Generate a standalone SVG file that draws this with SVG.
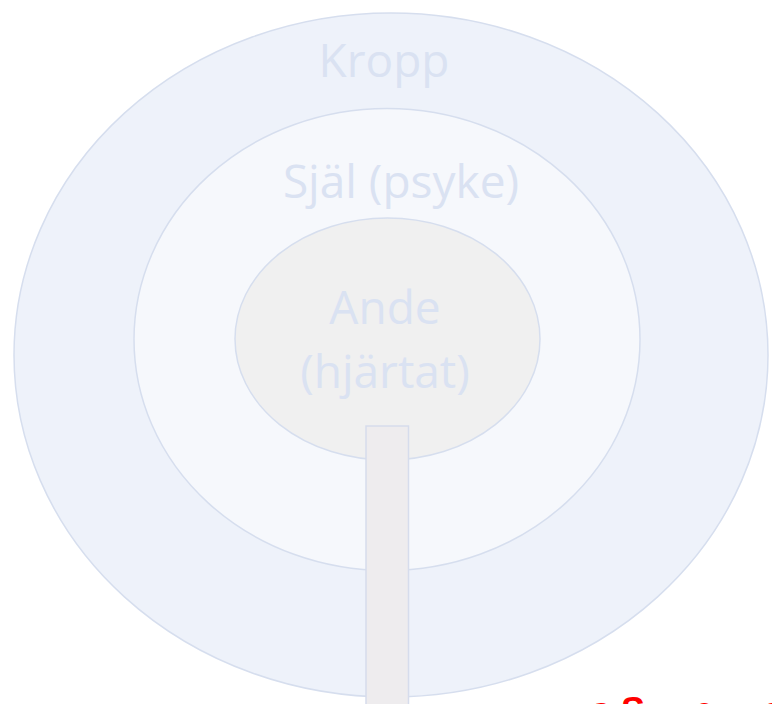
<svg xmlns="http://www.w3.org/2000/svg" width="772" height="704" viewBox="0 0 772 704">
<style>
.ring{stroke:#D6DEEE;stroke-width:1.5}
.lbl{font-family:"Open Sans","Liberation Sans",sans-serif;font-size:46px;fill:#DAE2F2;text-anchor:middle}
.red{font-family:"Liberation Sans",Arial,sans-serif;font-weight:bold;font-size:36px;fill:#FF0000}
</style>
<rect width="772" height="704" fill="#FFFFFF"/>
<g id="kropp">
<ellipse class="ring" cx="391" cy="355" rx="377" ry="342" fill="#EEF2FA"/>
<text class="lbl" x="384" y="77">Kropp</text>
</g>
<g id="sjal">
<ellipse class="ring" cx="387" cy="339.5" rx="253" ry="231" fill="#F6F8FC"/>
<text class="lbl" x="401" y="198">Själ (psyke)</text>
</g>
<g id="ande">
<ellipse class="ring" cx="387.5" cy="339" rx="152.5" ry="121" fill="#F0F0F0"/>
<text class="lbl" x="385" y="324">Ande</text>
<text class="lbl" x="385" y="388">(hjärtat)</text>
</g>
<g id="connectors">
<rect x="366" y="426" width="42.5" height="290" fill="#EEECEE" stroke="#D6DCEC" stroke-width="1.5"/>
</g>
<g id="caption">
<text class="red" y="723"><tspan x="591">s</tspan><tspan x="621">S</tspan><tspan x="694">e</tspan><tspan x="762">e</tspan></text>
</g>
</svg>
